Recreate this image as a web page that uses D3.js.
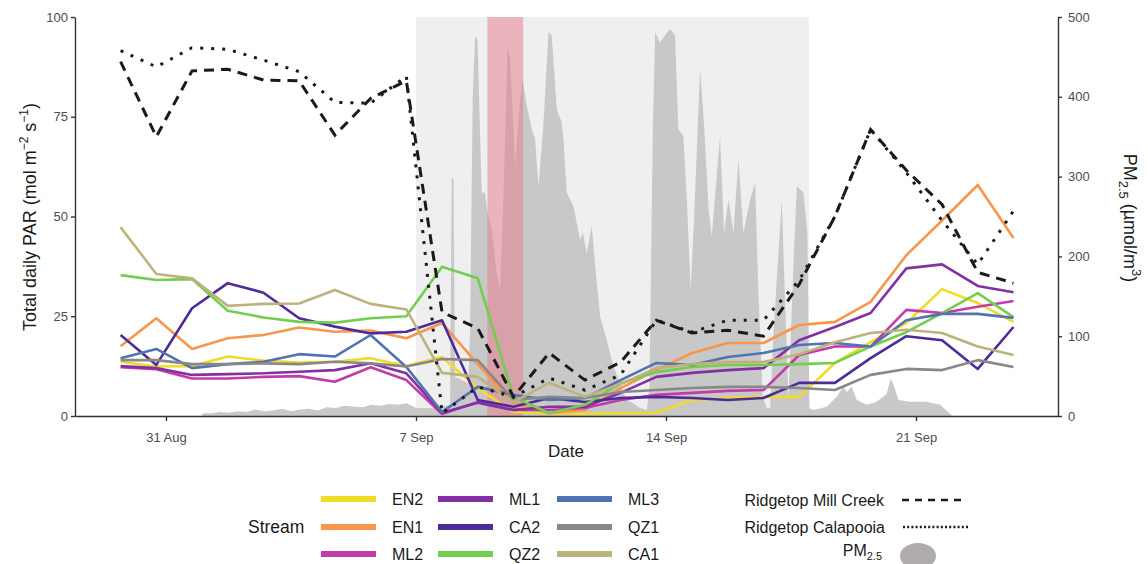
<!DOCTYPE html>
<html lang="en">
<head>
<meta charset="UTF-8">
<title>Total daily PAR and PM2.5</title>
<script src="https://d3js.org/d3.v7.min.js"></script>
<style>
  body { margin: 0; background: #fff; }
  svg { font-family: "Liberation Sans", Arial, sans-serif; }
  .axis .tick text { fill: #4d4d4d; font-size: 13px; }
  .axis path, .axis line { stroke: #333; stroke-width: 1.4px; }
</style>
</head>
<body>
<svg width="1148" height="564"></svg>
<script>
// daily PAR, one value per day
const parDays = ["2020-08-29","2020-08-30","2020-08-31","2020-09-01","2020-09-02","2020-09-03",
  "2020-09-04","2020-09-05","2020-09-06","2020-09-07","2020-09-08","2020-09-09","2020-09-10",
  "2020-09-11","2020-09-12","2020-09-13","2020-09-14","2020-09-15","2020-09-16","2020-09-17",
  "2020-09-18","2020-09-19","2020-09-20","2020-09-21","2020-09-22","2020-09-23"];

const streamNames  = ["EN2","EN1","ML2","ML1","CA2","QZ2","ML3","QZ1","CA1"];
const streamColors = ["#f0dc26","#f7964c","#c43aa8","#8330a4","#4d2b9a","#72cf4e","#5273b3","#888888","#bcb37c"];

const en2 = [13.6,12.4,12.5,14.9,13.9,13.4,13.6,14.5,12.5,14.8,7,1,0.7,0.5,0.7,0.8,4,4.5,4.8,4.8,13.3,18.5,23.3,31.8,28.3,23.6];
const en1 = [17.5,24.5,16.8,19.5,20.3,22.2,21.1,21.4,19.5,23.3,13,3.3,0.7,1.5,7,11.5,15.8,18.3,18.3,22.8,23.6,28.6,40.3,49,57.9,44.6];
const ml2 = [12.2,11.7,9.4,9.4,9.8,10,8.6,12.2,9,0.5,3.5,1.5,1.5,2,4,5.3,5.8,6.3,6.5,15.3,17.4,17.4,26.6,25.8,27.4,28.8];
const ml1 = [12.5,12,10.3,10.5,10.7,11.1,11.5,13.2,10.7,0.8,3.3,1.5,2.3,2.3,5.8,9.8,10.8,11.5,12,19,22.3,25.8,37,38,32.6,31];
const ca2 = [20.3,12.8,27,33.3,30.9,24.5,22.4,20.7,21.1,24,4,2.3,4.5,3.5,4.5,4.8,4.5,4,4.5,8.3,8.3,14.5,20,19,11.8,22.3];
const qz2 = [35.3,34.1,34.3,26.4,24.7,23.6,23.4,24.5,25,37.4,34.5,4.8,0.7,2.8,8.2,11,12.3,12.8,12.8,13,13.3,17.4,21,25.8,30.8,24.8];
const ml3 = [14.5,16.8,12,13,13.6,15.5,14.9,20.3,12.3,1,7.3,5.3,4,4.5,9,13.3,12.8,14.8,15.8,17.8,18.3,17.4,24,25.6,25.6,24.6];
const qz1 = [14,14,13,13,13.2,13,13.6,13.2,12.4,14.3,14,4,4.8,4.5,6,6.5,7,7.3,7.3,7,6.5,10.3,11.8,11.5,14,12.3];
const ca1 = [47.3,35.6,34.5,27.6,28.1,28.2,31.6,28.1,26.7,10.8,9.8,3.5,8.3,4.8,8,12,13,13.5,13.5,15.5,18.5,20.8,21.6,20.8,17.4,15.3];
const streamValues = [en2, en1, ml2, ml1, ca2, qz2, ml3, qz1, ca1];

const millCreek = [88.8,70,86.5,86.9,84.2,84,70.4,79.6,84,26,22,4.8,15.8,9,13.5,24,20.8,21.5,20,33,50,71.8,61.6,53,36,33.3];
const calapooia = [91.6,87.5,92.3,91.9,89.2,86.3,78.6,78.4,85.2,0.7,7.3,4.8,9.5,6.5,10.3,24,21,24,24,34,50,71.8,61,49,38,51.4];

// PM2.5, hours after 1 Sep 00:00 and concentration
const pmHour = [0,3,6,12,18,24,30,36,42,48,54,60,66,72,78,84,90,96,102,108,114,120,126,132,138,144,
  155.7,166.9,168,169.1,170.3,179.2,180.3,182.1,183.7,185.3,186.4,188.2,190.4,192,194.9,198.3,200.5,
  202.7,205.4,207.2,210.6,213.9,215.7,218.4,221.8,224,226.3,229.6,233,235.2,238.6,241.9,243.1,245.3,
  249.8,254.3,256.1,258.7,262.1,264.4,267.7,272.2,276.7,281.1,285.6,290.1,294.6,299.1,300.9,303.1,
  304.7,308,311.4,314.7,318.1,320.3,323.7,326,328.6,330.9,334.9,337.6,340.5,342.7,348.3,351,354,
  357.3,360.7,364,368.5,371.9,374.1,377,379.7,382,384.2,389.8,392,394.3,397.6,399.9,404.3,407,
  408.4,411,420,426.7,431.2,433.5,436.8,440.2,446.9,453.6,460.3,463,465.3,468.2,476,487.2,496.2,504];
const pmValue = [2,4,3,5,4,6,5,8,6,7,9,6,8,9,7,11,10,13,12,11,14,13,15,14,16,10,
  9.6,13.8,300,296,49,41,104,397,476,472,397,280,280,255,234,179,158,
  271,460,451,313,397,422,389,359,347,288,364,481,477,384,368,347,280,
  263,221,230,204,238,188,125,95,62,41,20,16,10,7.5,37,355,
  481,468,477,485,477,359,351,271,158,250,435,364,263,225,351,230,271,
  230,322,230,271,292,154,24,10,10,104,271,146,20,188,288,280,230,
  10,7.5,11.7,24,37,30,37,20,14,18,28,47,37,20,18,18,14,1];

const xTicks = ["2020-08-31","2020-09-07","2020-09-14","2020-09-21"];
const yLeftTicks = [0,25,50,75,100];
const yRightTicks = [0,100,200,300,400,500];
const smokeSpan = ["2020-09-07","2020-09-18"];
const fireSpan = ["2020-09-09","2020-09-10"];

const parse = d3.timeParse("%Y-%m-%d");
const svg = d3.select("svg");

const x = d3.scaleTime()
  .domain([new Date(2020, 7, 28, 10, 51), new Date(2020, 8, 24, 23, 25)])
  .range([75, 1058]);
const yL = d3.scaleLinear().domain([0, 100]).range([416, 17]);
const yR = d3.scaleLinear().domain([0, 500]).range([416, 17]);

const dayTime = s => new Date(+parse(s) + 17.5 * 3600e3);
const pmStart = +parse("2020-09-01");

// shaded smoke period
svg.append("rect")
  .attr("x", x(parse(smokeSpan[0]))).attr("y", yL(100))
  .attr("width", x(parse(smokeSpan[1])) - x(parse(smokeSpan[0])))
  .attr("height", yL(0) - yL(100))
  .attr("fill", "#efefef");

// PM2.5 area
const pm = pmHour.map((h, i) => ({ t: new Date(pmStart + h * 3600e3), v: pmValue[i] }));
svg.append("path")
  .datum(pm)
  .attr("fill", "#c4c4c4")
  .attr("opacity", 0.92)
  .attr("d", d3.area().x(d => x(d.t)).y0(yR(0)).y1(d => yR(d.v)));

// fire day
svg.append("rect")
  .attr("x", x(parse(fireSpan[0]))).attr("y", yL(100))
  .attr("width", x(parse(fireSpan[1])) - x(parse(fireSpan[0])))
  .attr("height", yL(0) - yL(100))
  .attr("fill", "#e8788a")
  .attr("opacity", 0.5);

const line = d3.line().x((d, i) => x(dayTime(parDays[i]))).y(d => yL(d));

svg.append("g").selectAll("path")
  .data(streamValues)
  .join("path")
  .attr("fill", "none")
  .attr("stroke", (d, i) => streamColors[i])
  .attr("stroke-width", 2.6)
  .attr("stroke-linejoin", "round")
  .attr("d", line);

svg.append("path").attr("d", line(millCreek))
  .attr("fill", "none").attr("stroke", "#1a1a1a").attr("stroke-width", 3)
  .attr("stroke-dasharray", "10,7");
svg.append("path").attr("d", line(calapooia))
  .attr("fill", "none").attr("stroke", "#1a1a1a").attr("stroke-width", 3)
  .attr("stroke-dasharray", "3,8");

// axes
svg.append("g").attr("class", "axis")
  .attr("transform", "translate(0,416)")
  .call(d3.axisBottom(x).tickValues(xTicks.map(parse))
    .tickFormat(d3.timeFormat("%-d %b")).tickSize(5).tickSizeOuter(0).tickPadding(12));
svg.append("g").attr("class", "axis")
  .attr("transform", "translate(75,0)")
  .call(d3.axisLeft(yL).tickValues(yLeftTicks).tickSize(4).tickSizeOuter(0).tickPadding(3));
svg.append("g").attr("class", "axis")
  .attr("transform", "translate(1058,0)")
  .call(d3.axisRight(yR).tickValues(yRightTicks).tickSize(4).tickSizeOuter(0).tickPadding(6));

// titles
svg.append("text").attr("x", 566).attr("y", 457).attr("text-anchor", "middle")
  .attr("font-size", 17).attr("fill", "#1a1a1a").text("Date");

const lt = svg.append("text").attr("transform", "translate(36,217) rotate(-90)")
  .attr("text-anchor", "middle").attr("font-size", 18).attr("fill", "#1a1a1a");
lt.append("tspan").text("Total daily PAR (mol m");
lt.append("tspan").attr("font-size", 12).attr("dy", -8).text("\u22122");
lt.append("tspan").attr("dy", 8).text(" s");
lt.append("tspan").attr("font-size", 12).attr("dy", -8).text("\u22121");
lt.append("tspan").attr("dy", 8).text(")");

const rt = svg.append("text").attr("transform", "translate(1124,218) rotate(90)")
  .attr("text-anchor", "middle").attr("font-size", 18).attr("fill", "#1a1a1a");
rt.append("tspan").text("PM");
rt.append("tspan").attr("font-size", 13).attr("dy", 5).text("2.5");
rt.append("tspan").attr("dy", -5).text(" (\u00b5mol/m");
rt.append("tspan").attr("font-size", 13).attr("dy", -8).text("3");
rt.append("tspan").attr("dy", 8).text(")");

// legend: streams
const leg = svg.append("g");
leg.append("text").attr("x", 248).attr("y", 533).attr("font-size", 17.5)
  .attr("fill", "#1a1a1a").text("Stream");
const colX = [321, 438, 557];
const rowY = [499, 527, 554];
streamNames.forEach((n, i) => {
  const cx = colX[Math.floor(i / 3)], cy = rowY[i % 3];
  leg.append("line").attr("x1", cx).attr("x2", cx + 55).attr("y1", cy).attr("y2", cy)
    .attr("stroke", streamColors[i]).attr("stroke-width", 6);
  leg.append("text").attr("x", cx + 71).attr("y", cy + 5.6).attr("font-size", 16)
    .attr("fill", "#1a1a1a").text(n);
});

// legend: ridgetop and PM2.5
const leg2 = svg.append("g").attr("font-size", 16).attr("fill", "#1a1a1a");
leg2.append("text").attr("x", 884).attr("y", 505.6).attr("text-anchor", "end").text("Ridgetop Mill Creek");
leg2.append("line").attr("x1", 902).attr("x2", 964).attr("y1", 500).attr("y2", 500)
  .attr("stroke", "#1a1a1a").attr("stroke-width", 2.5).attr("stroke-dasharray", "7,6");
leg2.append("text").attr("x", 885).attr("y", 532.6).attr("text-anchor", "end").text("Ridgetop Calapooia");
leg2.append("line").attr("x1", 903).attr("x2", 968).attr("y1", 527).attr("y2", 527)
  .attr("stroke", "#1a1a1a").attr("stroke-width", 2.5).attr("stroke-dasharray", "2,2.2");
const pmT = leg2.append("text").attr("x", 882).attr("y", 556).attr("text-anchor", "end");
pmT.append("tspan").text("PM");
pmT.append("tspan").attr("font-size", 11).attr("dy", 4).text("2.5");
leg2.append("ellipse").attr("cx", 918).attr("cy", 556).attr("rx", 18).attr("ry", 13)
  .attr("fill", "#afabaf");
</script>
</body>
</html>
